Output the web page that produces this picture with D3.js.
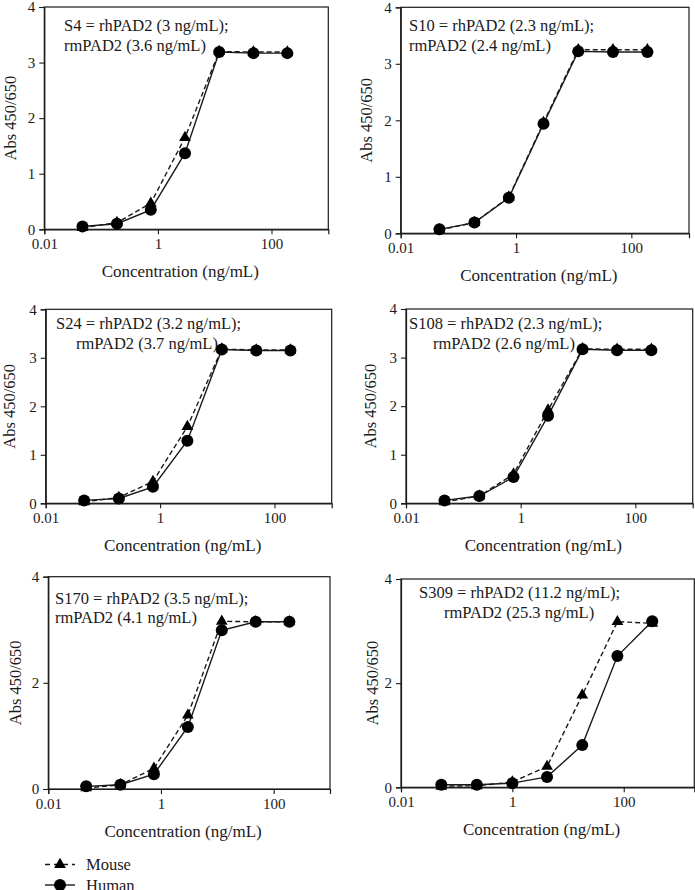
<!DOCTYPE html>
<html><head><meta charset="utf-8">
<script src="https://cdn.jsdelivr.net/npm/d3@7"></script>
<style>
body{margin:0;background:#fff}
svg{display:block}
text{font-family:"Liberation Serif","Times New Roman",serif;fill:#1a1a1a}
</style>
</head><body><svg id="c" width="695" height="890"></svg>
<script>
// ---------- data ----------
const concMain = [0.047, 0.19, 0.75, 3, 12, 48, 190];
const concS309 = [0.053, 0.23, 1, 4.2, 18, 77, 325];
const sampleNames = ["S4", "S10", "S24", "S108", "S170", "S309"];
const rhPAD2 = ["3", "2.3", "3.2", "2.3", "3.5", "11.2"];
const rmPAD2 = ["3.6", "2.4", "3.7", "2.6", "4.1", "25.3"];
const mouseS4   = [0.03, 0.12, 0.47, 1.65, 3.20, 3.19, 3.19];
const humanS4   = [0.05, 0.10, 0.35, 1.37, 3.19, 3.17, 3.17];
const mouseS10  = [0.06, 0.19, 0.64, 1.96, 3.25, 3.25, 3.25];
const humanS10  = [0.07, 0.19, 0.63, 1.94, 3.22, 3.21, 3.21];
const mouseS24  = [0.03, 0.12, 0.45, 1.58, 3.18, 3.16, 3.16];
const humanS24  = [0.06, 0.10, 0.34, 1.29, 3.17, 3.15, 3.15];
const mouseS108 = [0.03, 0.15, 0.60, 1.92, 3.18, 3.17, 3.17];
const humanS108 = [0.06, 0.15, 0.54, 1.80, 3.17, 3.15, 3.15];
const mouseS170 = [0.02, 0.08, 0.39, 1.39, 3.16, 3.15, 3.15];
const humanS170 = [0.05, 0.08, 0.28, 1.17, 2.99, 3.15, 3.15];
const mouseS309 = [0.02, 0.03, 0.10, 0.40, 1.77, 3.18, 3.15];
const humanS309 = [0.05, 0.05, 0.08, 0.20, 0.81, 2.52, 3.19];
const xTickValues = [0.01, 1, 100];
const xTickLabels = ["0.01", "1", "100"];
const yTicksFine = [0, 1, 2, 3, 4];
const yTicksCoarse = [0, 2, 4];
const legendLabels = ["Mouse", "Human"];
const xTitle = "Concentration (ng/mL)";
const yTitle = "Abs 450/650";

// ---------- layout ----------
const panels = [
  {conc: concMain, mouse: mouseS4,   human: humanS4,   L: 44.3, R: 328.3, T: 7,     B: 229.3, xMax: 1000, yt: yTicksFine,   a1: [64, 25],   a2: [64, 45],   yl: 34},
  {conc: concMain, mouse: mouseS10,  human: humanS10,  L: 400.7,R: 689,   T: 7.3,   B: 233.3, xMax: 1000, yt: yTicksFine,   a1: [409, 25],  a2: [409, 45],  yl: 34},
  {conc: concMain, mouse: mouseS24,  human: humanS24,  L: 45.7, R: 331.7, T: 309.3, B: 503.3, xMax: 1000, yt: yTicksFine,   a1: [56, 323.5],a2: [76, 343.5],yl: 36},
  {conc: concMain, mouse: mouseS108, human: humanS108, L: 406,  R: 692.7, T: 309,   B: 503.3, xMax: 1000, yt: yTicksFine,   a1: [409, 323.5],a2:[433, 343.5],yl: 36},
  {conc: concMain, mouse: mouseS170, human: humanS170, L: 48.3, R: 330,   T: 576.7, B: 789,   xMax: 1000, yt: yTicksCoarse, a1: [55, 598.5],a2: [55, 617],  yl: 33},
  {conc: concS309, mouse: mouseS309, human: humanS309, L: 401,  R: 694.3, T: 579,   B: 787.3, xMax: 1850, yt: yTicksCoarse, a1: [419, 592], a2: [444, 612], yl: 29}
];

const svg = d3.select("#c");
const ink = "#1a1a1a";
const triSize = 60, circR = 6;

panels.forEach((p, i) => {
  const x = d3.scaleLog().domain([0.01, p.xMax]).range([p.L, p.R]);
  const y = d3.scaleLinear().domain([0, 4]).range([p.B, p.T]);
  const g = svg.append("g");

  // frame
  g.append("rect").attr("x", p.L).attr("y", p.T).attr("width", p.R - p.L).attr("height", p.B - p.T)
    .attr("fill", "none").attr("stroke", ink).attr("stroke-width", 1.2);

  // axes
  const xAxis = d3.axisBottom(x).tickValues(xTickValues).tickFormat((d, k) => xTickLabels[k]).tickSizeOuter(0).tickSize(5).tickPadding(4);
  const gx = g.append("g").attr("transform", `translate(0,${p.B})`).call(xAxis);
  const yAxis = d3.axisLeft(y).tickValues(p.yt).tickFormat(d3.format("d")).tickSizeOuter(0).tickSize(5).tickPadding(4);
  const gy = g.append("g").attr("transform", `translate(${p.L},0)`).call(yAxis);
  [gx, gy].forEach(a => {
    a.select(".domain").attr("stroke", ink).attr("stroke-width", 1.2);
    a.selectAll(".tick line").attr("stroke", ink).attr("stroke-width", 1.1);
    a.selectAll(".tick text").attr("fill", ink).style("font-size", "15px").style("font-family", '"Liberation Serif",serif');
  });

  // titles
  g.append("text").attr("x", (p.L + p.R) / 2 - 6).attr("y", p.B + 42).attr("dy", "0.35em")
    .attr("text-anchor", "middle").style("font-size", "17px").text(xTitle);
  g.append("text").attr("transform", `translate(${p.L - p.yl},${(p.T + p.B) / 2}) rotate(-90)`).attr("dy", "0.35em")
    .attr("text-anchor", "middle").style("font-size", "16.5px").text(yTitle);

  // annotation
  g.append("text").attr("x", p.a1[0]).attr("y", p.a1[1]).attr("dy", "0.35em").style("font-size", "16.5px")
    .text(`${sampleNames[i]} = rhPAD2 (${rhPAD2[i]} ng/mL);`);
  g.append("text").attr("x", p.a2[0]).attr("y", p.a2[1]).attr("dy", "0.35em").style("font-size", "16.5px")
    .text(`rmPAD2 (${rmPAD2[i]} ng/mL)`);

  const line = d3.line().x(d => x(d[0])).y(d => y(d[1]));
  const mData = p.conc.map((c, k) => [c, p.mouse[k]]);
  const hData = p.conc.map((c, k) => [c, p.human[k]]);

  g.append("path").datum(mData).attr("d", line).attr("fill", "none").attr("stroke", ink)
    .attr("stroke-width", 1.4).attr("stroke-dasharray", "5,3");
  g.append("path").datum(hData).attr("d", line).attr("fill", "none").attr("stroke", ink).attr("stroke-width", 1.4);

  g.selectAll(".tri").data(mData).enter().append("path")
    .attr("d", d3.symbol(d3.symbolTriangle, triSize)())
    .attr("transform", d => `translate(${x(d[0])},${y(d[1])})`).attr("fill", "#000");
  g.selectAll(".dot").data(hData).enter().append("circle")
    .attr("cx", d => x(d[0])).attr("cy", d => y(d[1])).attr("r", circR).attr("fill", "#000");
});

// legend
const lg = svg.append("g");
const legY = [864.5, 885];
legendLabels.forEach((lab, k) => {
  lg.append("line").attr("x1", 45).attr("x2", 75).attr("y1", legY[k]).attr("y2", legY[k])
    .attr("stroke", ink).attr("stroke-width", 1.4).attr("stroke-dasharray", k === 0 ? "5,4" : null);
  if (k === 0) {
    lg.append("path").attr("d", d3.symbol(d3.symbolTriangle, triSize)()).attr("transform", `translate(60,${legY[k]})`).attr("fill", "#000");
  } else {
    lg.append("circle").attr("cx", 60).attr("cy", legY[k]).attr("r", circR).attr("fill", "#000");
  }
  lg.append("text").attr("x", 86).attr("y", legY[k]).attr("dy", "0.35em").style("font-size", "16.5px").text(lab);
});
</script>
</body></html>
